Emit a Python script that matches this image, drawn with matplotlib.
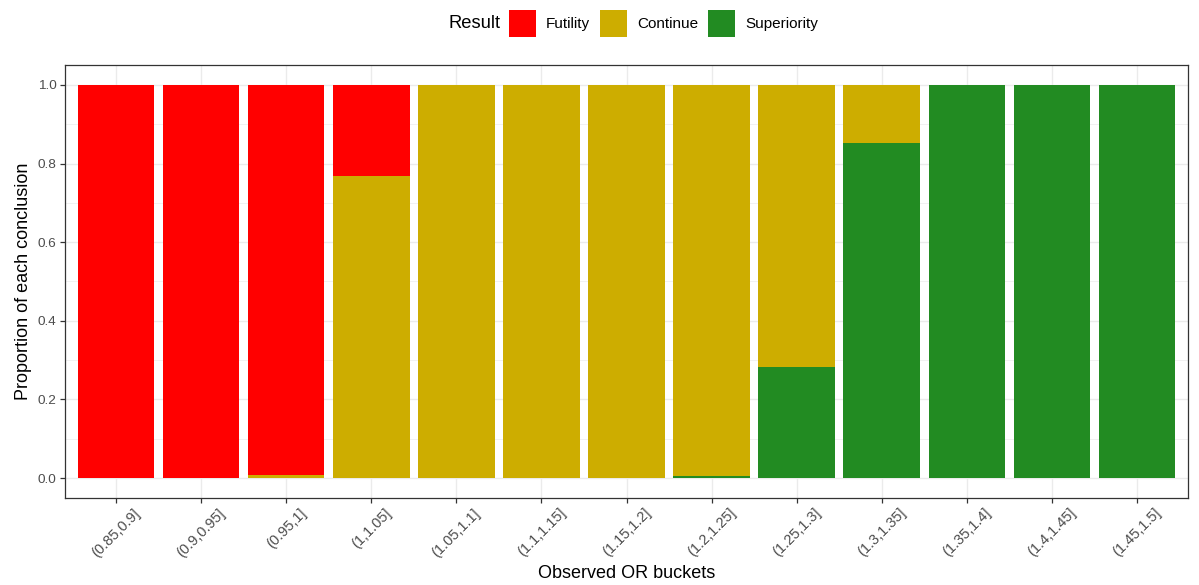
import numpy as np
import matplotlib.pyplot as plt
import matplotlib.transforms as mtransforms
from matplotlib.patches import Patch
from matplotlib.ticker import MultipleLocator

plt.rcParams["font.family"] = ["Liberation Sans", "DejaVu Sans"]

# ── Data ──────────────────────────────────────────────────────────────────────
buckets = ["(0.85,0.9]", "(0.9,0.95]", "(0.95,1]", "(1,1.05]", "(1.05,1.1]",
           "(1.1,1.15]", "(1.15,1.2]", "(1.2,1.25]", "(1.25,1.3]", "(1.3,1.35]",
           "(1.35,1.4]", "(1.4,1.45]", "(1.45,1.5]"]
superiority = [0.0, 0.0, 0.0, 0.0, 0.0, 0.0, 0.0, 0.005, 0.282, 0.852, 1.0, 1.0, 1.0]
continue_ = [0.0, 0.0, 0.008, 0.768, 1.0, 1.0, 1.0, 0.995, 0.718, 0.148, 0.0, 0.0, 0.0]
futility = [1.0, 1.0, 0.992, 0.232, 0.0, 0.0, 0.0, 0.0, 0.0, 0.0, 0.0, 0.0, 0.0]

results = ["Futility", "Continue", "Superiority"]
colors = {"Futility": "#FF0000", "Continue": "#CDAD00", "Superiority": "#228B22"}

# ── Figure ────────────────────────────────────────────────────────────────────
W, H = 1199, 585
fig = plt.figure(figsize=(W / 100, H / 100), dpi=100)
left, right, top, bottom = 65, 1188, 65.3, 497.7
ax = fig.add_axes([left / W, 1 - bottom / H, (right - left) / W, (bottom - top) / H])

x = np.arange(len(buckets))
sup = np.array(superiority)
con = np.array(continue_)
fut = np.array(futility)
ax.bar(x, sup, width=0.9, color=colors["Superiority"], zorder=2)
ax.bar(x, con, width=0.9, bottom=sup, color=colors["Continue"], zorder=2)
ax.bar(x, fut, width=0.9, bottom=sup + con, color=colors["Futility"], zorder=2)

ax.set_xlim(-0.6, len(buckets) - 0.4)
ax.set_ylim(-0.05, 1.05)
ax.yaxis.set_major_locator(MultipleLocator(0.2))
ax.yaxis.set_minor_locator(MultipleLocator(0.1))
ax.set_xticks(x)
ax.set_xticklabels(buckets, rotation=45, ha="center", va="top", fontsize=10.5)
ax.set_yticks(np.arange(0, 1.01, 0.2))
ax.set_yticklabels([f"{v:.1f}" for v in np.arange(0, 1.01, 0.2)])

# nudge the rotated labels a little to the right, like the original
shift = mtransforms.ScaledTranslation(2.5 / 100, 0, fig.dpi_scale_trans)
for lab in ax.get_xticklabels():
    lab.set_transform(lab.get_transform() + shift)

ax.grid(which="major", color="#EBEBEB", linewidth=1.0, zorder=0)
ax.grid(which="minor", axis="y", color="#EBEBEB", linewidth=0.5, zorder=0)
ax.set_axisbelow(True)
for s in ax.spines.values():
    s.set_color("#333333")
    s.set_linewidth(0.9)
ax.tick_params(which="major", length=3.5, width=0.9, color="#333333",
               labelcolor="#4D4D4D", pad=2.5)
ax.tick_params(axis="y", labelsize=9.7)
ax.tick_params(which="minor", length=0)

ax.set_xlabel("Observed OR buckets", fontsize=13, labelpad=4)
ax.set_ylabel("Proportion of each conclusion", fontsize=13, labelpad=4)

# legend on top
handles = [Patch(facecolor=colors[r], edgecolor="none", label=r) for r in results]
fig.legend(handles=handles, ncol=3, loc="center", frameon=False,
           bbox_to_anchor=(663.5 / W, 1 - 23.5 / H), fontsize=11,
           handlelength=1.77, handleheight=2.31, handletextpad=0.65,
           columnspacing=0.65, borderpad=0, borderaxespad=0)
fig.text(448 / W, 1 - 23.5 / H, "Result", fontsize=13.2, ha="left", va="center")

fig.savefig("out.png", dpi=100)
